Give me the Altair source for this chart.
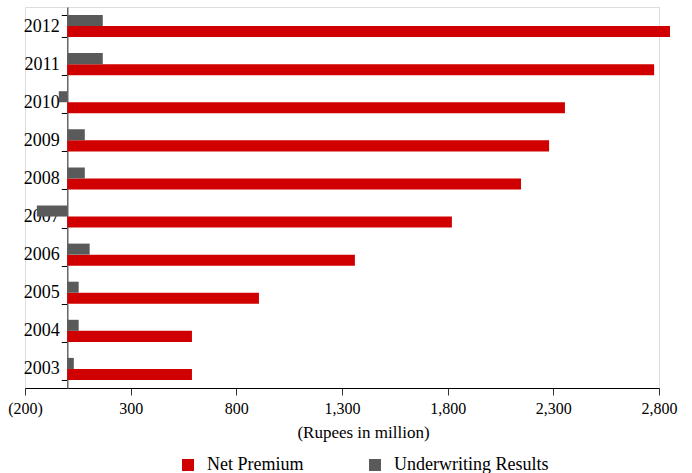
import altair as alt
import pandas as pd

# Yearly figures, Rupees in million
years = ["2003", "2004", "2005", "2006", "2007", "2008", "2009", "2010", "2011", "2012"]
net_premium = [590, 590, 907, 1361, 1820, 2147, 2280, 2355, 2777, 2852]
underwriting = [31, 54, 54, 106, -144, 83, 83, -40, 168, 168]

series = ["Net Premium", "Underwriting Results"]
colors = ["#d00000", "#5a5a5a"]
x_ticks = [-200, 300, 800, 1300, 1800, 2300, 2800]

rows = []
for y, npv, uw in zip(years, net_premium, underwriting):
    rows.append({"year": y, "series": series[0], "value": npv})
    rows.append({"year": y, "series": series[1], "value": uw})
df = pd.DataFrame(rows)

FONT = "Liberation Serif"
W, H = 634, 381
x_min, x_max = -200, 2800
zero_offset = W * (0 - x_min) / (x_max - x_min)

bars = alt.Chart(df).mark_bar().encode(
    y=alt.Y(
        "year:O",
        sort=years[::-1],
        scale=alt.Scale(paddingInner=0.42, paddingOuter=0.21),
        axis=alt.Axis(
            title=None,
            offset=-zero_offset,
            tickBand="extent",
            tickSize=6,
            tickColor="#000000",
            domainColor="#666666",
            domainWidth=1.5,
            labelPadding=2,
            labelFont=FONT,
            labelFontSize=18,
            labelColor="#000000",
        ),
    ),
    yOffset=alt.YOffset("series:N", sort=series[::-1], scale=alt.Scale(paddingInner=0)),
    x=alt.X(
        "value:Q",
        scale=alt.Scale(domain=[x_min, x_max], nice=False, zero=False),
        axis=alt.Axis(
            title="(Rupees in million)",
            values=x_ticks,
            grid=False,
            tickSize=7,
            tickColor="#333333",
            domainColor="#000000",
            labelPadding=5,
            labelFlush=False,
            labelFont=FONT,
            labelFontSize=16,
            labelColor="#000000",
            labelExpr="datum.value < 0 ? '(' + format(-datum.value, ',') + ')' : format(datum.value, ',')",
            titleFont=FONT,
            titleFontSize=17,
            titleFontWeight="normal",
            titleColor="#000000",
            titlePadding=8,
            titleX=338,
        ),
    ),
    color=alt.Color(
        "series:N",
        scale=alt.Scale(domain=series, range=colors),
        legend=alt.Legend(
            title=None,
            orient="none",
            direction="horizontal",
            legendX=154,
            legendY=449,
            columns=2,
            columnPadding=62,
            symbolType="square",
            symbolSize=144,
            symbolStrokeWidth=0,
            symbolOpacity=1,
            labelFont=FONT,
            labelFontSize=18,
            labelColor="#000000",
            labelOffset=10,
        ),
    ),
)

chart = bars.properties(
    width=W,
    height=H,
    autosize=alt.AutoSizeParams(type="none"),
    padding={"left": 25, "top": 7, "right": 33, "bottom": 85},
).configure_view(stroke=None).configure(background="#ffffff")

chart.save("out.html", embed_options={"renderer": "svg", "actions": False})
